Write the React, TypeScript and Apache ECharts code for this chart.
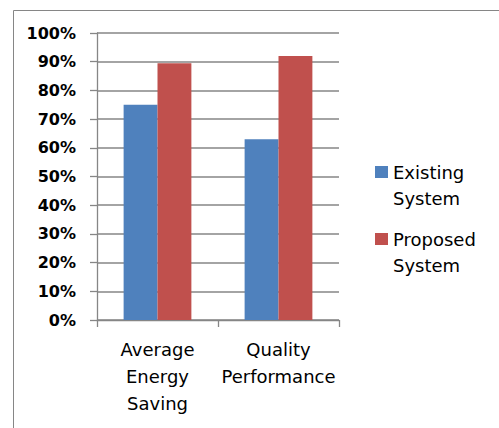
import React, { useEffect, useRef } from "react";
import * as echarts from "echarts";

const categories = ["Average\nEnergy\nSaving", "Quality\nPerformance"];
const seriesNames = ["Existing\nSystem", "Proposed\nSystem"];
const existingValues = [0.75, 0.63];
const proposedValues = [0.895, 0.92];
const seriesColors = ["#4F81BD", "#C0504D"];

export default function App() {
  const ref = useRef<HTMLDivElement>(null);
  useEffect(() => {
    if (!ref.current) return;
    const chart = echarts.init(ref.current, undefined, { renderer: "svg" });
    const grey = "#868686";
    chart.setOption({
      animation: false,
      backgroundColor: "#ffffff",
      textStyle: { fontFamily: "DejaVu Sans" },
      graphic: [
        {
          type: "rect",
          shape: { x: 13.5, y: 10.5, width: 700, height: 700 },
          style: { fill: "none", stroke: grey, lineWidth: 1 },
          silent: true,
          z: -10,
        },
      ],
      grid: { left: 97, top: 33, right: 160, bottom: 108 },
      legend: {
        orient: "vertical",
        left: 370,
        top: 132,
        itemWidth: 13,
        itemHeight: 12,
        itemGap: -3,
        icon: "rect",
        data: seriesNames,
        formatter: (name: string) =>
          "{s| }\n" + name.split("\n").map((l) => `{t|${l}}`).join("\n"),
        textStyle: {
          fontFamily: "DejaVu Sans",
          fontSize: 18,
          color: "#000",
          rich: {
            s: { fontSize: 18, lineHeight: 26, fontFamily: "DejaVu Sans" },
            t: { fontSize: 18, lineHeight: 26, color: "#000", fontFamily: "DejaVu Sans" },
          },
        },
      },
      xAxis: {
        type: "category",
        data: categories,
        axisLine: { show: true, lineStyle: { color: grey, width: 1.3 } },
        axisTick: { show: true, alignWithLabel: false, length: 7, lineStyle: { color: grey, width: 1.3 } },
        axisLabel: {
          color: "#000",
          fontFamily: "DejaVu Sans",
          fontSize: 18,
          lineHeight: 27,
          margin: 16,
          interval: 0,
        },
      },
      yAxis: {
        type: "value",
        min: 0,
        max: 1,
        interval: 0.1,
        axisLine: { show: true, lineStyle: { color: grey, width: 1.3 } },
        axisTick: { show: true, length: 7, lineStyle: { color: grey, width: 1.3 } },
        splitLine: { show: true, lineStyle: { color: grey, width: 1.5 } },
        axisLabel: {
          color: "#000",
          fontFamily: "DejaVu Sans",
          fontWeight: "bold",
          fontSize: 16,
          margin: 21,
          formatter: (v: number) => Math.round(v * 100) + "%",
        },
      },
      series: [
        {
          name: seriesNames[0],
          type: "bar",
          data: existingValues,
          itemStyle: { color: seriesColors[0] },
          barGap: "0%",
          barCategoryGap: "44%",
        },
        {
          name: seriesNames[1],
          type: "bar",
          data: proposedValues,
          itemStyle: { color: seriesColors[1] },
          barGap: "0%",
          barCategoryGap: "44%",
        },
      ],
    });
    return () => chart.dispose();
  }, []);
  return (
    <div
      ref={ref}
      style={{ position: "fixed", left: 0, top: 0, width: 499, height: 428 }}
    />
  );
}
